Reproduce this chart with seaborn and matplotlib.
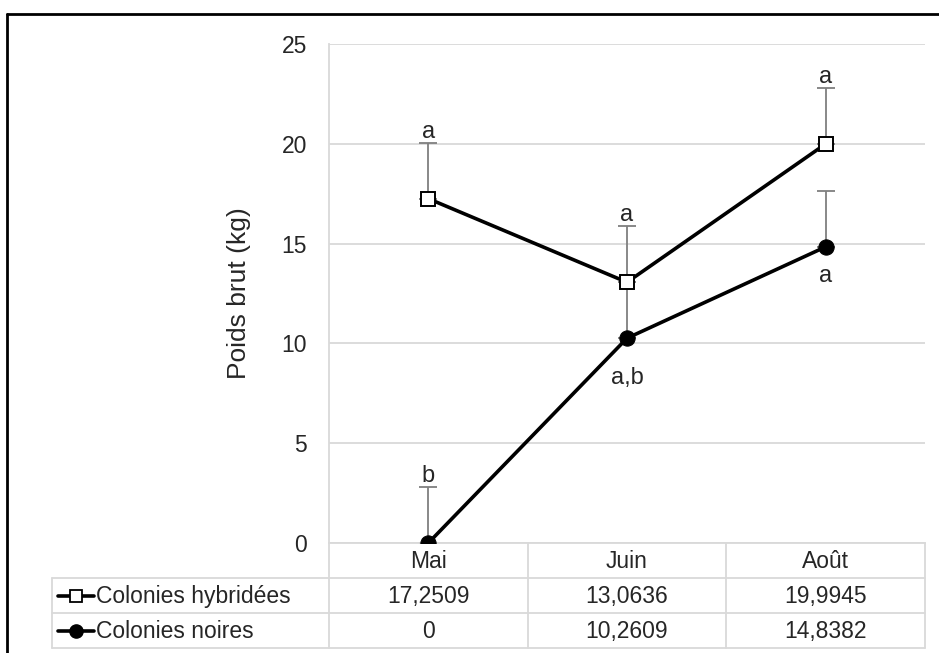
import numpy as np
import pandas as pd
import seaborn as sns
import matplotlib.pyplot as plt
from matplotlib.lines import Line2D

# data
months = ['Mai', 'Juin', 'Août']
series_names = ['Colonies hybridées', 'Colonies noires']
hybrid = [17.2509, 13.0636, 19.9945]
noires = [0, 10.2609, 14.8382]
hybrid_err = [2.78, 2.80, 2.78]
noires_err = [2.80, 2.80, 2.78]
hybrid_letters = ['a', 'a', 'a']
noires_letters = ['b', 'a,b', 'a']
y_ticks = [0, 5, 10, 15, 20, 25]

sns.set_theme(style='white')
plt.rcParams['font.family'] = ['Liberation Sans', 'DejaVu Sans']

W, H = 939, 653
fig = plt.figure(figsize=(W / 100, H / 100), dpi=100)


def fx(px):
    return px / W


def fy(py):
    return 1 - py / H


# plot area in pixels
ax_l, ax_r, ax_t, ax_b = 329, 925, 44, 543
ax = fig.add_axes([fx(ax_l), fy(ax_b), fx(ax_r - ax_l), (ax_b - ax_t) / H])

x = np.arange(len(months))
df = pd.DataFrame({'x': np.concatenate([x, x]),
                   'y': hybrid + noires,
                   'serie': [series_names[0]] * 3 + [series_names[1]] * 3})

grid_c = '#d9d9d9'
err_c = '#7f7f7f'
fs = 16.5

# upper error bars only
ax.errorbar(x, hybrid, yerr=[np.zeros(3), hybrid_err], fmt='none', ecolor=err_c,
            elinewidth=1.3, capsize=6.5, capthick=1.3, zorder=2)
ax.errorbar(x, noires, yerr=[np.zeros(3), noires_err], fmt='none', ecolor=err_c,
            elinewidth=1.3, capsize=6.5, capthick=1.3, zorder=2)

sns.lineplot(data=df[df.serie == series_names[0]], x='x', y='y', ax=ax, color='black',
             lw=2.6, marker='s', markersize=10, markerfacecolor='white',
             markeredgecolor='black', markeredgewidth=1.4, zorder=4, legend=False)
sns.lineplot(data=df[df.serie == series_names[1]], x='x', y='y', ax=ax, color='black',
             lw=2.6, marker='o', markersize=11, markerfacecolor='black',
             markeredgecolor='black', zorder=4, legend=False)

# significance letters
for i in x:
    ax.annotate(hybrid_letters[i], (i, hybrid[i] + hybrid_err[i]), xytext=(0, 4),
                textcoords='offset points', ha='center', va='baseline', fontsize=17)
ax.annotate(noires_letters[0], (0, noires[0] + noires_err[0]), xytext=(0, 4),
            textcoords='offset points', ha='center', va='baseline', fontsize=17)
ax.annotate(noires_letters[1], (1, noires[1]), xytext=(0, -33),
            textcoords='offset points', ha='center', va='baseline', fontsize=17)
ax.annotate(noires_letters[2], (2, noires[2]), xytext=(0, -25),
            textcoords='offset points', ha='center', va='baseline', fontsize=17)

ax.set_xlim(-0.5, 2.5)
ax.set_ylim(0, 25)
ax.set_yticks(y_ticks)
ax.set_yticklabels([str(t) for t in y_ticks], fontsize=fs)
ax.set_xticks([])
ax.set_xlabel('')
ax.set_ylabel('Poids brut (kg)', fontsize=19, labelpad=22)
ax.tick_params(axis='y', length=0, pad=16)
ax.yaxis.grid(True, color=grid_c, lw=1.3)
ax.set_axisbelow(True)
for s in ['top', 'right']:
    ax.spines[s].set_visible(False)
for s in ['left', 'bottom']:
    ax.spines[s].set_color(grid_c)
    ax.spines[s].set_linewidth(1.3)
ax.patch.set_alpha(0)

# data table below the axis
col_edges = [ax_l + k * (ax_r - ax_l) / 3 for k in range(4)]
tab_l = 52
row_y = [543, 578, 613, 648]


def hline(x0, x1, y):
    fig.add_artist(Line2D([fx(x0), fx(x1)], [fy(y), fy(y)], color=grid_c, lw=1.3))


def vline(xp, y0, y1):
    fig.add_artist(Line2D([fx(xp), fx(xp)], [fy(y0), fy(y1)], color=grid_c, lw=1.3))


hline(tab_l, col_edges[-1], row_y[1])
hline(tab_l, col_edges[-1], row_y[2])
hline(tab_l, col_edges[-1], row_y[3])
vline(tab_l, row_y[1], row_y[3])
for xe in col_edges:
    vline(xe, row_y[0], row_y[3])

for k, m in enumerate(months):
    xc = (col_edges[k] + col_edges[k + 1]) / 2
    fig.text(fx(xc), fy((row_y[0] + row_y[1]) / 2 + 1), m, ha='center', va='center', fontsize=fs)

rows = [hybrid, noires]
styles = [dict(marker='s', markersize=8.5, markerfacecolor='white', markeredgewidth=1.3),
          dict(marker='o', markersize=9.5, markerfacecolor='black')]
for r, (name, vals) in enumerate(zip(series_names, rows)):
    yc = (row_y[r + 1] + row_y[r + 2]) / 2
    fig.add_artist(Line2D([fx(58), fx(94)], [fy(yc), fy(yc)], color='black', lw=2.6))
    fig.add_artist(Line2D([fx(76)], [fy(yc)], color='black', markeredgecolor='black', **styles[r]))
    fig.text(fx(96), fy(yc + 1), name, ha='left', va='center', fontsize=fs)
    for k, v in enumerate(vals):
        xc = (col_edges[k] + col_edges[k + 1]) / 2
        txt = ('%g' % v).replace('.', ',')
        fig.text(fx(xc), fy(yc + 1), txt, ha='center', va='center', fontsize=fs)

# outer frame (top and left edges)
fig.add_artist(Line2D([fx(7), 1], [fy(14), fy(14)], color='black', lw=2))
fig.add_artist(Line2D([fx(7), fx(7)], [0, fy(14)], color='black', lw=2))

fig.savefig('out.png', dpi=100)
